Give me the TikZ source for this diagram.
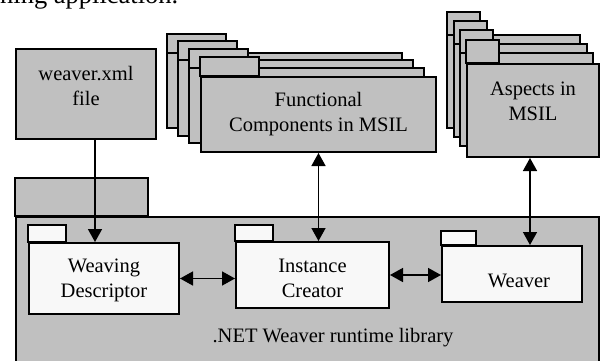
\documentclass[tikz,border=0pt]{standalone}
\usepackage{fontspec}
\setmainfont{Liberation Serif}
\usetikzlibrary{arrows.meta,positioning,calc}
\definecolor{pkggray}{RGB}{192,192,192}
\definecolor{pkgwhite}{RGB}{248,248,248}

\begin{document}
\begin{tikzpicture}[x=1pt, y=-1pt, >={Triangle[length=13pt,width=14pt]},
  font=\fontsize{20.5}{25}\selectfont,
  pkg/.style={draw, line width=2pt, fill=pkggray, inner sep=0pt, anchor=north west},
  subpkg/.style={pkg, fill=pkgwhite},
  txt/.style={align=center, inner sep=0pt},
  link/.style={<->, line width=1.5pt}]
\useasboundingbox (0,0) rectangle (600,361);

% end of the text line above
\node[anchor=base west, inner sep=0pt, font=\fontsize{26.5}{30}\selectfont] (textline) at (0,4) {ning application.};

% input file
\node[pkg, minimum width=140pt, minimum height=90pt] (xml) at (15,48) {};
\node[txt] (xmltxt) at ([yshift=8pt]xml.center) {weaver.xml\\file};

% functional components, stacked folders
\foreach \i in {0,1,2} {
  \draw[pkg] (167+11*\i, 34+7.5*\i) rectangle ++(59,19);
  \draw[pkg] (167+11*\i, 53+7.5*\i) rectangle ++(235,75);
}
\node[pkg, minimum width=235pt, minimum height=75pt] (fc) at (200,76) {};
\draw[pkg] (fc.north west) rectangle ++(59,-19);
\node[txt] (fctxt) at (fc.center) {Functional\\Components in MSIL};

% aspects, stacked folders
\foreach \i in {0,1,2} {
  \draw[pkg] (447+6.5*\i, 12+9*\i) rectangle ++(33,23);
  \draw[pkg] (447+6.5*\i, 35+9*\i) rectangle ++(133,93);
}
\node[pkg, minimum width=132pt, minimum height=93pt] (asp) at (466,63) {};
\draw[pkg] (asp.north west) rectangle ++(33,-23);
\node[txt] (asptxt) at ([yshift=9.5pt]asp.center) {Aspects in\\MSIL};

% runtime library package
\draw[pkg] (15,178) rectangle (148,216);
\node[pkg, minimum width=583pt, minimum height=170pt] (lib) at (15,216) {};
\node[txt] (libtxt) at (333,338) {.NET Weaver runtime library};

\node[subpkg, minimum width=150pt, minimum height=71pt] (wd) at (28,242) {};
\draw[subpkg] (wd.north west) rectangle ++(38,-17);
\node[txt] (wdtxt) at ([yshift=-1.5pt]wd.center) {Weaving\\Descriptor};

\node[subpkg, minimum width=153pt, minimum height=66pt] (ic) at (235,241) {};
\draw[subpkg] (ic.north west) rectangle ++(38,-16);
\node[txt] (ictxt) at ([yshift=-3.5pt]ic.center) {Instance\\Creator};

\node[subpkg, minimum width=140pt, minimum height=56pt] (wv) at (441,245) {};
\draw[subpkg] (wv.north west) rectangle ++(35,-14);
\node[txt] (wvtxt) at ([xshift=7pt,yshift=-7pt]wv.center) {Weaver};

% connectors
\coordinate (xmlout) at ([xshift=9pt]xml.south);
\coordinate (aspout) at ([xshift=-3pt]asp.south);
\draw[->, line width=1.5pt] (xmlout) -- (xmlout |- wd.north);
\draw[link] (fc.south) -- (fc.south |- ic.north);
\draw[link] (aspout) -- (aspout |- wv.north);
\draw[link] (wd.east) -- (wd.east -| ic.west);
\draw[link] (ic.east) -- (ic.east -| wv.west);
\end{tikzpicture}
\end{document}
